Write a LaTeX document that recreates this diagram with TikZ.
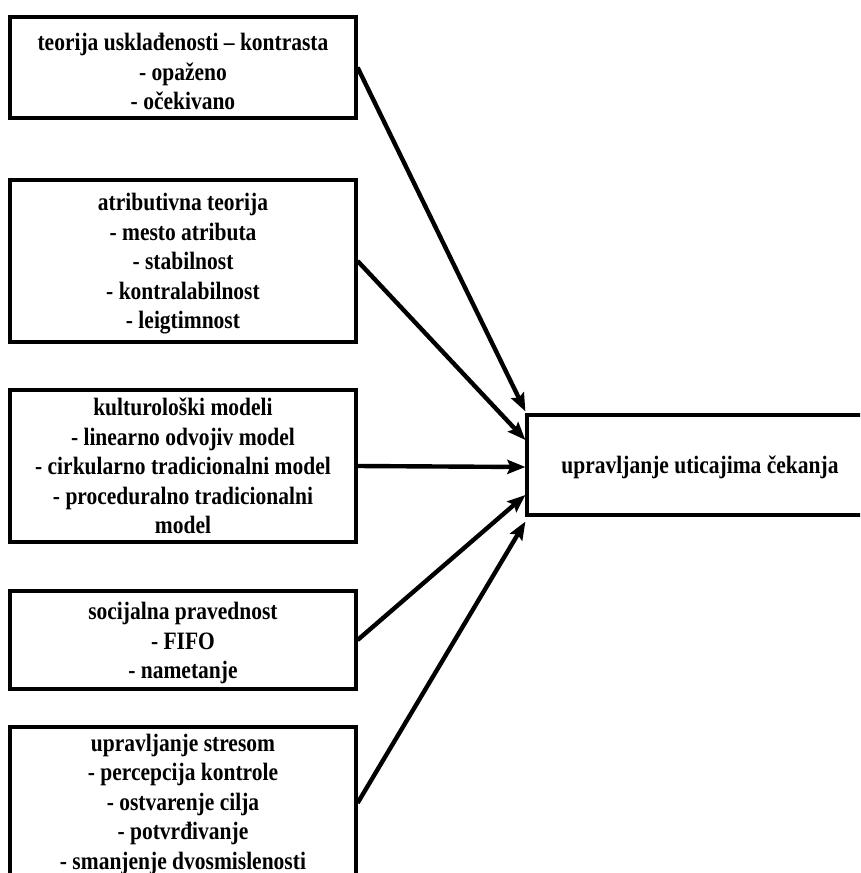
\documentclass[tikz,border=0pt]{standalone}
\usepackage{fontspec}
\setmainfont{Liberation Serif}[FakeStretch=0.86]
\usetikzlibrary{arrows.meta,calc}

\begin{document}
\begin{tikzpicture}[x=1pt,y=-1pt,
  factor/.style={draw,line width=3.2pt,rectangle,minimum width=346pt,
    inner sep=0pt},
  factortext/.style={align=center,inner sep=0pt,
    font=\bfseries\fontsize{25}{29.5}\selectfont},
  influence/.style={line width=4.4pt,
    -{Stealth[length=18pt,width=14pt,inset=3pt]}}]
  \useasboundingbox (0,0) rectangle (860,873);
  \clip (0,0) rectangle (860,873);

  % left-hand column of theories (text set as a centred label, nudged down a little)
  \node[factor,minimum height=101pt,
    label={[factortext,yshift=-4pt]center:{teorija usklađenosti – kontrasta\\- opaženo\\- očekivano}}]
    (b1) at (183,67.5) {};
  \node[factor,minimum height=162pt,
    label={[factortext,yshift=-3pt]center:{atributivna teorija\\- mesto atributa\\- stabilnost\\- kontralabilnost\\- leigtimnost}}]
    (b2) at (183,261) {};
  \node[factor,minimum height=152pt,
    label={[factortext]center:{kulturološki modeli\\- linearno odvojiv model\\- cirkularno tradicionalni model\\- proceduralno tradicionalni\\model}}]
    (b3) at (183,466) {};
  \node[factor,minimum height=98pt,
    label={[factortext,yshift=-3pt]center:{socijalna pravednost\\- FIFO\\- nametanje}}]
    (b4) at (183,640) {};
  \node[factor,minimum height=152pt,
    label={[factortext,yshift=-1pt]center:{upravljanje stresom\\- percepcija kontrole\\- ostvarenje cilja\\- potvrđivanje\\- smanjenje dvosmislenosti}}]
    (b5) at (183,803) {};

  % target box on the right
  \node[factor,minimum height=100pt,
    label={[factortext,yshift=-2pt]center:{upravljanje uticajima čekanja}}]
    (t) at (700,465) {};

  % arrows into the target
  \draw[influence] (b1.east) -- ($(t.north west)+(0,-2)$);
  \draw[influence] (b2.east) -- ($(t.west)+(0,-25)$);
  \draw[influence] (b3.east) -- ($(t.west)+(0,2)$);
  \draw[influence] (b4.east) -- ($(t.west)+(0,30)$);
  \draw[influence] (b5.east) -- ($(t.south west)+(0,5)$);
\end{tikzpicture}
\end{document}
